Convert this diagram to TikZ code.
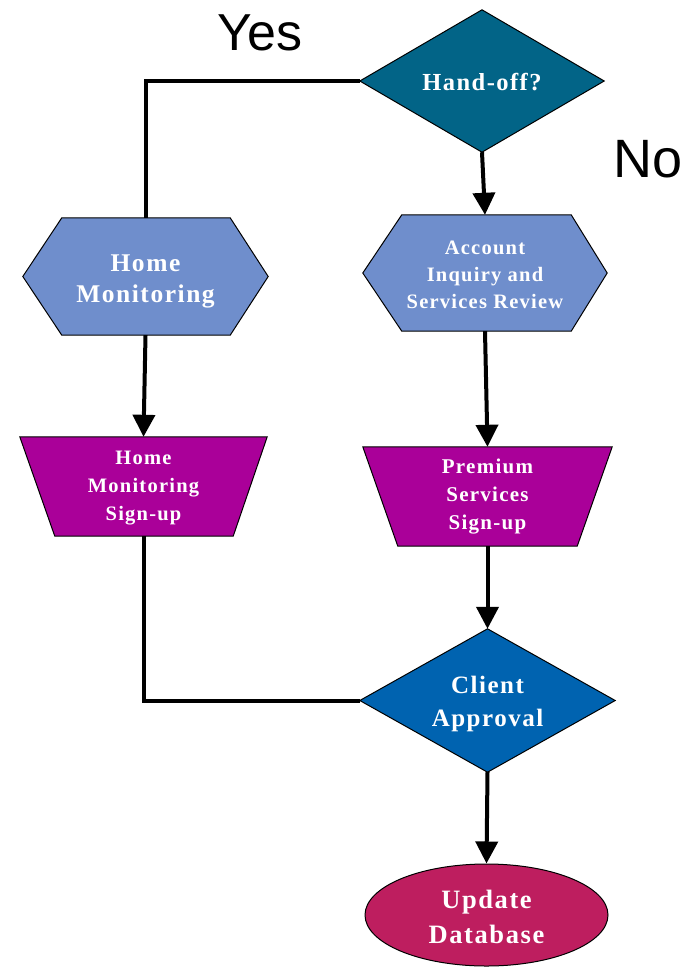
\documentclass[tikz,border=0pt]{standalone}
\usepackage{fontspec}
\usetikzlibrary{arrows.meta,backgrounds,shapes.geometric}
\newfontfamily\lab[LetterSpace=6]{Liberation Serif}
\newfontfamily\sanslab{Liberation Sans}
\definecolor{handc}{RGB}{2,100,135}
\definecolor{hexc}{RGB}{111,142,204}
\definecolor{purp}{RGB}{170,0,153}
\definecolor{clientc}{RGB}{0,99,176}
\definecolor{dbc}{RGB}{190,30,95}
\tikzset{
  box/.style={draw=none,inner sep=0pt,align=center,text=white},
  lbl/.style={text=white,align=center,inner sep=0pt},
  shapeline/.style={draw=black,line width=1pt},
  conn/.style={line width=4pt,black},
  arr/.style={conn,-{Triangle[length=22pt,width=22pt]}},
  bigtext/.style={inner sep=0pt,text=black}
}
\begin{document}
\begin{tikzpicture}[x=1pt,y=-1pt]
\useasboundingbox (0,0) rectangle (688,967);
% nodes
\node[box,minimum width=244pt,minimum height=142pt,
  label={[lbl,yshift=-1pt,font=\lab\bfseries\fontsize{24.5}{30}\selectfont]center:Hand-off?}] (hand) at (482,81) {};
\node[box,minimum width=245pt,minimum height=117pt,
  label={[lbl,yshift=-5pt,font=\lab\bfseries\fontsize{25.5}{31}\selectfont]center:Home\\Monitoring}] (hm) at (145.5,276.5) {};
\node[box,minimum width=244pt,minimum height=116pt,
  label={[lbl,yshift=-2pt,font=\lab\bfseries\fontsize{20.5}{27}\selectfont]center:Account\\Inquiry and\\Services Review}] (acc) at (485,273) {};
\node[box,minimum width=247pt,minimum height=99pt,
  label={[lbl,yshift=-2pt,font=\lab\bfseries\fontsize{20.5}{28}\selectfont]center:Home\\Monitoring\\Sign-up}] (hms) at (143.5,486.5) {};
\node[box,minimum width=249pt,minimum height=99pt,
  label={[lbl,yshift=0pt,font=\lab\bfseries\fontsize{21}{28}\selectfont]center:Premium\\Services\\Sign-up}] (prem) at (487.5,496.5) {};
\node[box,minimum width=255pt,minimum height=143pt,
  label={[lbl,yshift=-3pt,font=\lab\bfseries\fontsize{25}{33}\selectfont]center:Client\\Approval}] (client) at (487.5,700.5) {};
\node[box,ellipse,shapeline,fill=dbc,minimum width=243pt,minimum height=102pt,
  label={[lbl,yshift=-2pt,font=\lab\bfseries\fontsize{26.5}{35}\selectfont]center:Update\\Database}] (db) at (486.5,915) {};
\node[bigtext,font=\sanslab\fontsize{52}{60}\selectfont] (yes) at (260,33) {Yes};
\node[bigtext,font=\sanslab\fontsize{54}{62}\selectfont] (no) at (648,159) {No};
% shapes
\begin{scope}[on background layer]
\draw[shapeline,fill=handc] (hand.west) -- (hand.north) -- (hand.east) -- (hand.south) -- cycle;
\draw[shapeline,fill=clientc] (client.west) -- (client.north) -- (client.east) -- (client.south) -- cycle;
\draw[shapeline,fill=hexc] (hm.west) -- ([xshift=39pt]hm.north west) -- ([xshift=-38pt]hm.north east) -- (hm.east) -- ([xshift=-38pt]hm.south east) -- ([xshift=39pt]hm.south west) -- cycle;
\draw[shapeline,fill=hexc] (acc.west) -- ([xshift=39pt]acc.north west) -- ([xshift=-36pt]acc.north east) -- (acc.east) -- ([xshift=-36pt]acc.south east) -- ([xshift=39pt]acc.south west) -- cycle;
\draw[shapeline,fill=purp] (hms.north west) -- (hms.north east) -- ([xshift=-34pt]hms.south east) -- ([xshift=35pt]hms.south west) -- cycle;
\draw[shapeline,fill=purp] (prem.north west) -- (prem.north east) -- ([xshift=-35pt]prem.south east) -- ([xshift=35pt]prem.south west) -- cycle;
\end{scope}
% connectors
\draw[conn] (hand.west) -| (hm.north);
\draw[arr] (hand.south) -- (acc.north);
\draw[arr] (hm.south) -- (hms.north);
\draw[arr] (acc.south) -- (prem.north);
\draw[arr] (prem.south) -- (client.north);
\draw[conn] (hms.south) |- (client.west);
\draw[arr] (client.south) -- (db.north);
\end{tikzpicture}
\end{document}
